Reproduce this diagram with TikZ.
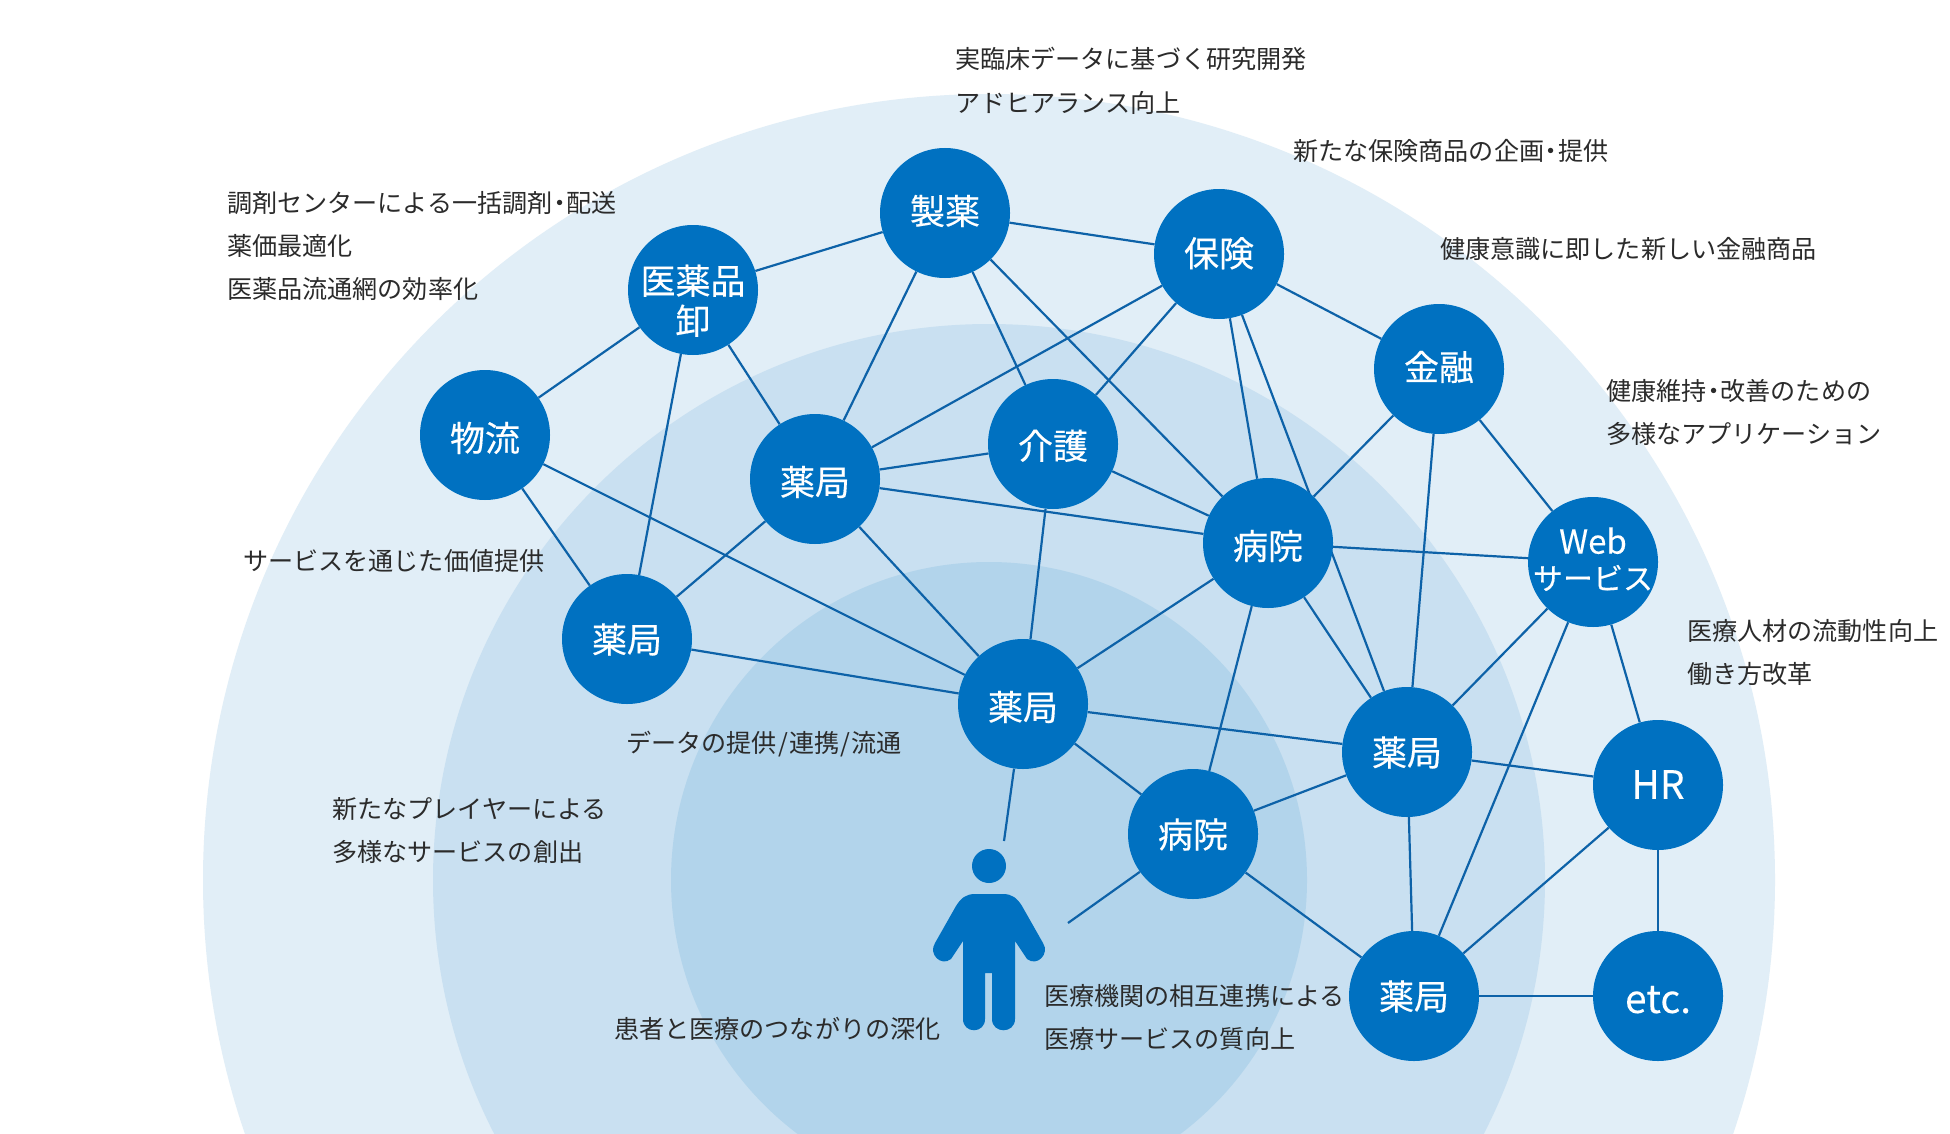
\documentclass[tikz,border=0pt]{standalone}
\usepackage{fontspec}
\setmainfont{Noto Sans CJK JP}
\newfontfamily\hubfont[FakeBold=0.35]{Noto Sans CJK JP}
\newfontfamily\hublatin[FakeBold=0.1]{Noto Sans CJK JP}
\usetikzlibrary{backgrounds}
\definecolor{ringA}{HTML}{E1EEF7}
\definecolor{ringB}{HTML}{C9E0F1}
\definecolor{ringC}{HTML}{B2D4EB}
\definecolor{hubblue}{HTML}{0071C1}
\definecolor{linkblue}{HTML}{0D62A8}
\definecolor{inkgray}{HTML}{2B2B2B}
\newcommand{\dotsep}{\kern-.22em ・\kern-.22em }
\newcommand{\slashsep}{\kern.05em/\kern.05em }
\tikzset{
  x=1pt,y=-1pt,
  hub/.style={circle,fill=hubblue,text=white,minimum size=130pt,inner sep=-20pt,align=center,
    font=\hubfont\fontsize{35}{40}\selectfont},
  hubone/.style={hub,text height=#1,text depth=4pt},
  hubone/.default=34pt,
  hublat/.style={hubone=#1,font=\hublatin\fontsize{39}{40}\selectfont},
  hubsmall/.style={hub,font=\hubfont\fontsize{30}{36}\selectfont},
  lbl/.style={anchor=west,inner sep=0pt,text=inkgray,font=\fontsize{25.1}{25.1}\selectfont},
  link/.style={draw=linkblue,line width=2.2pt}
}
\begin{document}
\begin{tikzpicture}
\useasboundingbox (0,0) rectangle (1950,1134);
\begin{pgfonlayer}{background}
\fill[white] (0,0) rectangle (1950,1134);
\begin{scope}
\clip (0,0) rectangle (1950,1134);
\fill[ringA] (989,880) circle[radius=786];
\fill[ringB] (989,880) circle[radius=556];
\fill[ringC] (989,880) circle[radius=318];
\end{scope}
\end{pgfonlayer}

\node[hubone=26.5pt] (seiyaku) at (945,213) {製薬};
\node[hubone=29pt] (hoken) at (1219,254) {保険};
\node[hub] (oroshi) at (693,290) {\rule{0pt}{51pt}医薬品\\卸};
\node[hubone=26.5pt] (kinyu) at (1439,369) {金融};
\node[hubone=36.5pt] (butsuryu) at (485,435) {物流};
\node[hubone=36.5pt] (yakkyokuA) at (815,479) {薬局};
\node[hubone] (kaigo) at (1053,444) {介護};
\node[hubone=36.5pt] (byoinA) at (1268,543) {病院};
\node[hubsmall] (web) at (1593,562) {{\hublatin\fontsize{33}{36}\selectfont Web}\\サービス\rule[-7pt]{0pt}{1pt}};
\node[hubone=31.5pt] (yakkyokuB) at (627,639) {薬局};
\node[hubone=36.5pt] (yakkyokuC) at (1023,704) {薬局};
\node[hubone=31.5pt] (yakkyokuD) at (1407,752) {薬局};
\node[hublat=31.5pt] (hr) at (1658,785) {HR};
\node[hubone=31.5pt] (byoinB) at (1193,834) {病院};
\node[hubone=31.5pt] (yakkyokuE) at (1414,996) {薬局};
\node[hublat=38pt] (etc) at (1658,996) {etc.};

\coordinate (pA) at (1004,841);
\coordinate (pB) at (1068,923);

\begin{pgfonlayer}{background}
\foreach \a/\b in {seiyaku/oroshi,seiyaku/hoken,seiyaku/yakkyokuA,seiyaku/kaigo,seiyaku/byoinA,
  hoken/kinyu,hoken/kaigo,hoken/yakkyokuA,hoken/byoinA,hoken/yakkyokuD,
  oroshi/butsuryu,oroshi/yakkyokuB,oroshi/yakkyokuA,
  butsuryu/yakkyokuB,butsuryu/yakkyokuC,
  yakkyokuA/yakkyokuB,yakkyokuA/kaigo,yakkyokuA/byoinA,yakkyokuA/yakkyokuC,
  kaigo/byoinA,kaigo/yakkyokuC,
  kinyu/byoinA,kinyu/yakkyokuD,kinyu/web,
  byoinA/web,byoinA/yakkyokuC,byoinA/yakkyokuD,byoinA/byoinB,
  web/yakkyokuD,web/yakkyokuE,web/hr,
  yakkyokuB/yakkyokuC,
  yakkyokuC/yakkyokuD,yakkyokuC/byoinB,yakkyokuC/pA,
  yakkyokuD/byoinB,yakkyokuD/hr,yakkyokuD/yakkyokuE,
  byoinB/yakkyokuE,byoinB/pB,
  hr/yakkyokuE,hr/etc,yakkyokuE/etc}{
  \draw[link] (\a) -- (\b);
}
\end{pgfonlayer}

% person
\begin{scope}[yshift=-1pt]
\fill[hubblue] (989,865) circle[radius=17];
\fill[hubblue] (975,893) -- (1003,893) .. controls (1012,893) and (1017,897) .. (1022,905)
  -- (1043,942) .. controls (1050,953) and (1037,966) .. (1027,958) -- (1015,940)
  -- (1015,1018) .. controls (1015,1033) and (992,1033) .. (992,1018) -- (992,972) -- (985,972)
  -- (985,1018) .. controls (985,1033) and (963,1033) .. (963,1018) -- (963,940) -- (951,958)
  .. controls (941,966) and (928,953) .. (935,942) -- (956,905)
  .. controls (961,897) and (966,893) .. (975,893) -- cycle;
\end{scope}

% labels
\node[lbl] (t1) at (955,59) {実臨床データに基づく研究開発};
\node[lbl] (t2) at (955,103) {アドヒアランス向上};
\node[lbl] (t3) at (1293,151) {新たな保険商品の企画\dotsep 提供};
\node[lbl] (t4) at (1440,249) {健康意識に即した新しい金融商品};
\node[lbl] (t5) at (1606,391) {健康維持\dotsep 改善のための};
\node[lbl] (t6) at (1606,434) {多様なアプリケーション};
\node[lbl] (t7) at (1687,631) {医療人材の流動性向上};
\node[lbl] (t8) at (1687,674) {働き方改革};
\node[lbl] (t9) at (227,203) {調剤センターによる一括調剤\dotsep 配送};
\node[lbl] (t10) at (227,246) {薬価最適化};
\node[lbl] (t11) at (227,289) {医薬品流通網の効率化};
\node[lbl] (t12) at (243,561) {サービスを通じた価値提供};
\node[lbl] (t13) at (626,744) {データの提供\slashsep 連携\slashsep 流通};
\node[lbl] (t14) at (332,809) {新たなプレイヤーによる};
\node[lbl] (t15) at (332,852) {多様なサービスの創出};
\node[lbl] (t16) at (614,1029) {患者と医療のつながりの深化};
\node[lbl] (t17) at (1044,996) {医療機関の相互連携による};
\node[lbl] (t18) at (1044,1039) {医療サービスの質向上};
\end{tikzpicture}
\end{document}
